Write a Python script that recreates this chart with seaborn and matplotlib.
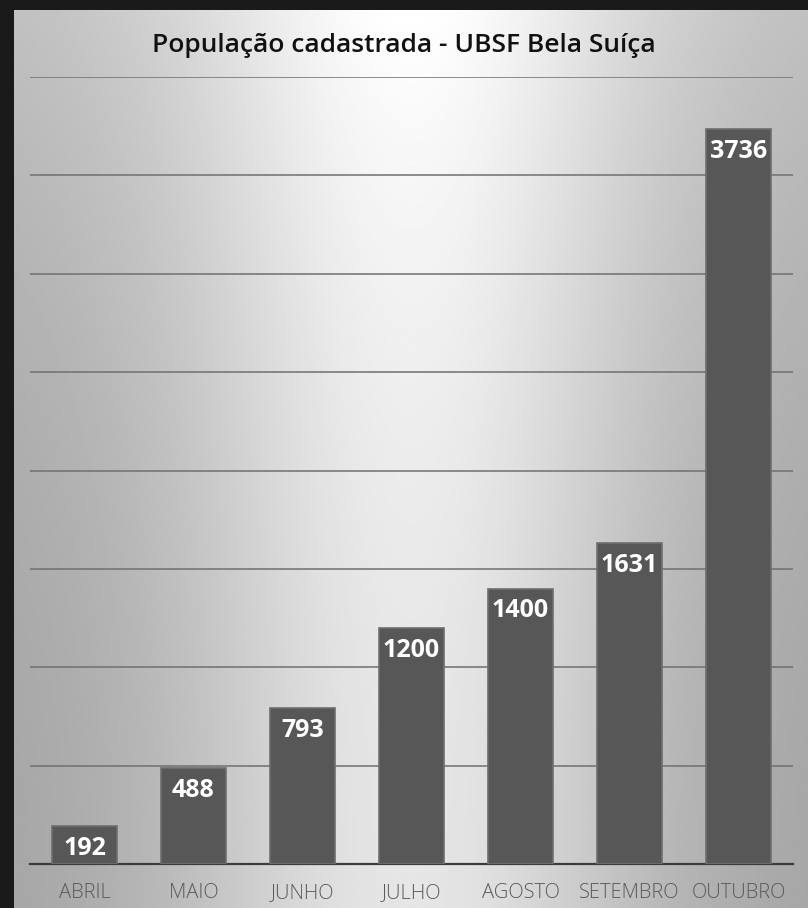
import numpy as np
import pandas as pd
import matplotlib
matplotlib.use("Agg")
import matplotlib.pyplot as plt
import seaborn as sns

meses = ["ABRIL", "MAIO", "JUNHO", "JULHO", "AGOSTO", "SETEMBRO", "OUTUBRO"]
populacao = [192, 488, 793, 1200, 1400, 1631, 3736]
titulo = "População cadastrada - UBSF Bela Suíça"

df = pd.DataFrame({"mes": meses, "pop": populacao})

sns.set_theme(style="white")
plt.rcParams["font.family"] = ["Open Sans", "DejaVu Sans"]

fig = plt.figure(figsize=(8.08, 9.08), dpi=100)
fig.patch.set_facecolor("#1a1a1a")

# background (photo-like gray gradient)
bg = fig.add_axes([14/808, 0, 1 - 14/808, 1 - 10/908], zorder=0)
W, H = 400, 400
xx = np.linspace(0, 1, W)
yy = np.linspace(0, 1, H)
X, Y = np.meshgrid(xx, yy)
horiz = 0.64 + 0.26 * np.exp(-((X - 0.5) / 0.3) ** 2)
vert = 0.10 * (1 - Y) ** 2
img = np.clip(horiz + vert, 0, 1)
bg.imshow(img, cmap="gray", vmin=0, vmax=1, aspect="auto", extent=[0, 1, 0, 1])
bg.axis("off")

ax = fig.add_axes([30/808, 1 - 864/908, (793 - 30)/808, (864 - 77)/908], zorder=1)
ax.patch.set_alpha(0)
sns.barplot(data=df, x="mes", y="pop", color="#575757", width=0.59,
            saturation=1, edgecolor="#6e6e6e", linewidth=1.2, ax=ax, zorder=3)

ax.set_ylim(0, 4000)
ax.set_yticks(np.arange(0, 4001, 500))
ax.yaxis.grid(True, color="#6f6f6f", linewidth=1.1, zorder=0)
ax.set_axisbelow(True)
ax.tick_params(axis="y", left=False, labelleft=False)
ax.tick_params(axis="x", bottom=False, pad=8, labelsize=14.5, labelcolor="#5a5a5a")
for lbl in ax.get_xticklabels():
    lbl.set_fontweight("light")
for s in ["top", "right", "left"]:
    ax.spines[s].set_visible(False)
ax.spines["bottom"].set_color("#3c3c3c")
ax.spines["bottom"].set_linewidth(1.6)
ax.set_xlabel("")
ax.set_ylabel("")
ax.set_xlim(-0.5, len(meses) - 0.5)

for i, v in enumerate(populacao):
    ax.annotate(f"{v}", xy=(i, v), xytext=(0, -16), textcoords="offset points",
                ha="center", va="center", color="white", fontsize=18,
                fontweight="bold", zorder=5)

fig.text(0.5, 1 - 45/908, titulo, ha="center", va="center", fontsize=19,
         color="#111111", fontweight="semibold")

fig.savefig("out.png", dpi=100, facecolor=fig.get_facecolor())
